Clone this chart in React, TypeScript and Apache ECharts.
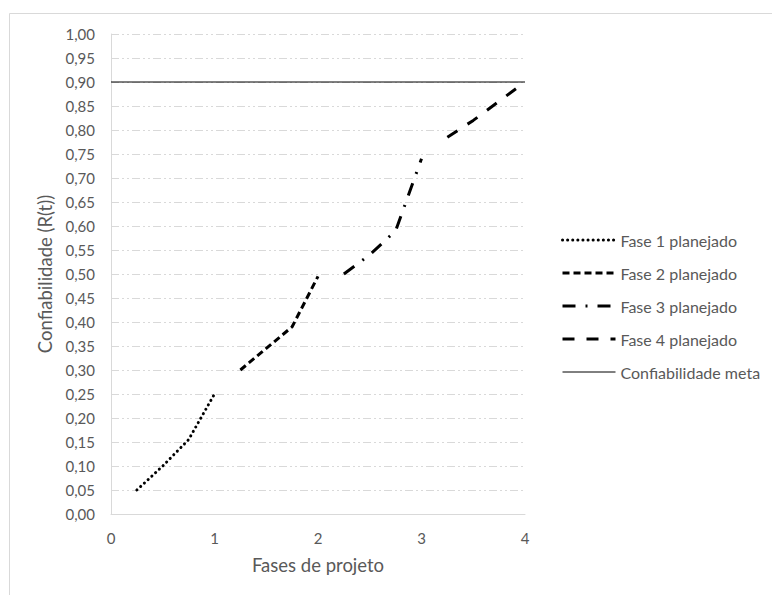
import React, { useEffect, useRef } from "react";
import * as echarts from "echarts";

const phase1X = [0.25, 0.5, 0.75, 1.0];
const phase1Y = [0.05, 0.1, 0.155, 0.25];
const phase2X = [1.25, 1.5, 1.75, 2.0];
const phase2Y = [0.3, 0.345, 0.39, 0.495];
const phase3X = [2.25, 2.5, 2.75, 3.0];
const phase3Y = [0.5, 0.54, 0.59, 0.74];
const phase4X = [3.25, 3.5, 3.75, 4.0];
const phase4Y = [0.785, 0.82, 0.86, 0.9];
const targetX = [0, 4];
const targetY = [0.9, 0.9];
const seriesNames = [
  "Fase 1 planejado",
  "Fase 2 planejado",
  "Fase 3 planejado",
  "Fase 4 planejado",
  "Confiabilidade meta",
];
const xTitle = "Fases de projeto";
const yTitle = "Confiabilidade (R(t))";

const pairs = (xs: number[], ys: number[]) => xs.map((x, i) => [x, ys[i]]);

export default function App() {
  const ref = useRef<HTMLDivElement>(null);
  useEffect(() => {
    document.body.style.margin = "0";
    const chart = echarts.init(ref.current!, undefined, { renderer: "svg" });
    const font = "Lato, 'Open Sans', sans-serif";
    const textColor = "#595959";
    const mk = (name: string, data: number[][], type: any, width: number, cap: any = "butt") => ({
      name,
      type: "line",
      data,
      symbol: "none",
      smooth: false,
      lineStyle: { color: "#000", width, type, cap },
      itemStyle: { color: "#000" },
    });
    const dashes: any[] = [[0.1, 5], [7, 4], [13, 10, 2, 10], [12, 12], "solid"];
    const widths = [3, 3, 3, 3, 1];
    chart.setOption({
      animation: false,
      textStyle: { fontFamily: font },
      graphic: [
        {
          type: "rect",
          shape: { x: 9.5, y: 13.5, width: 800, height: 600 },
          style: { fill: "none", stroke: "#d9d9d9", lineWidth: 1 },
          silent: true,
        },
      ],
      grid: { left: 111, right: 247, top: 34, bottom: 81, containLabel: false },
      legend: {
        orient: "vertical",
        left: 556,
        top: 227,
        itemWidth: 53,
        itemHeight: 18,
        itemGap: 17,
        itemStyle: { opacity: 0 },
        textStyle: { fontFamily: font, fontSize: 16, color: textColor },
        data: seriesNames.map((name, i) => ({
          name,
          lineStyle: { width: widths[i], type: dashes[i], color: "#000", cap: i === 0 ? "round" : "butt" },
        })),
      },
      xAxis: {
        type: "value",
        min: 0,
        max: 4,
        interval: 1,
        name: xTitle,
        nameLocation: "middle",
        nameGap: 41,
        nameTextStyle: { fontFamily: font, fontSize: 18.5, color: textColor },
        axisLine: { show: true, lineStyle: { color: "#d9d9d9", width: 1 } },
        axisTick: { show: false },
        axisLabel: { fontFamily: font, fontSize: 15, color: textColor, margin: 16 },
        splitLine: { show: false },
      },
      yAxis: {
        type: "value",
        min: 0,
        max: 1,
        interval: 0.05,
        name: yTitle,
        nameLocation: "middle",
        nameGap: 50,
        nameTextStyle: { fontFamily: font, fontSize: 18.5, color: textColor },
        axisLine: { show: true, lineStyle: { color: "#d9d9d9", width: 1 } },
        axisTick: { show: false },
        axisLabel: {
          fontFamily: font,
          fontSize: 15,
          color: textColor,
          margin: 16,
          formatter: (v: number) => v.toFixed(2).replace(".", ","),
        },
        splitLine: {
          show: true,
          lineStyle: { color: "#d9d9d9", width: 1, type: [8, 3, 2, 3, 2, 3] },
        },
      },
      series: [
        mk(seriesNames[0], pairs(phase1X, phase1Y), dashes[0], widths[0], "round"),
        mk(seriesNames[1], pairs(phase2X, phase2Y), dashes[1], widths[1]),
        mk(seriesNames[2], pairs(phase3X, phase3Y), dashes[2], widths[2]),
        mk(seriesNames[3], pairs(phase4X, phase4Y), dashes[3], widths[3]),
        mk(seriesNames[4], pairs(targetX, targetY), dashes[4], widths[4]),
      ],
    });
    return () => chart.dispose();
  }, []);
  return <div ref={ref} style={{ width: 772, height: 595 }} />;
}
